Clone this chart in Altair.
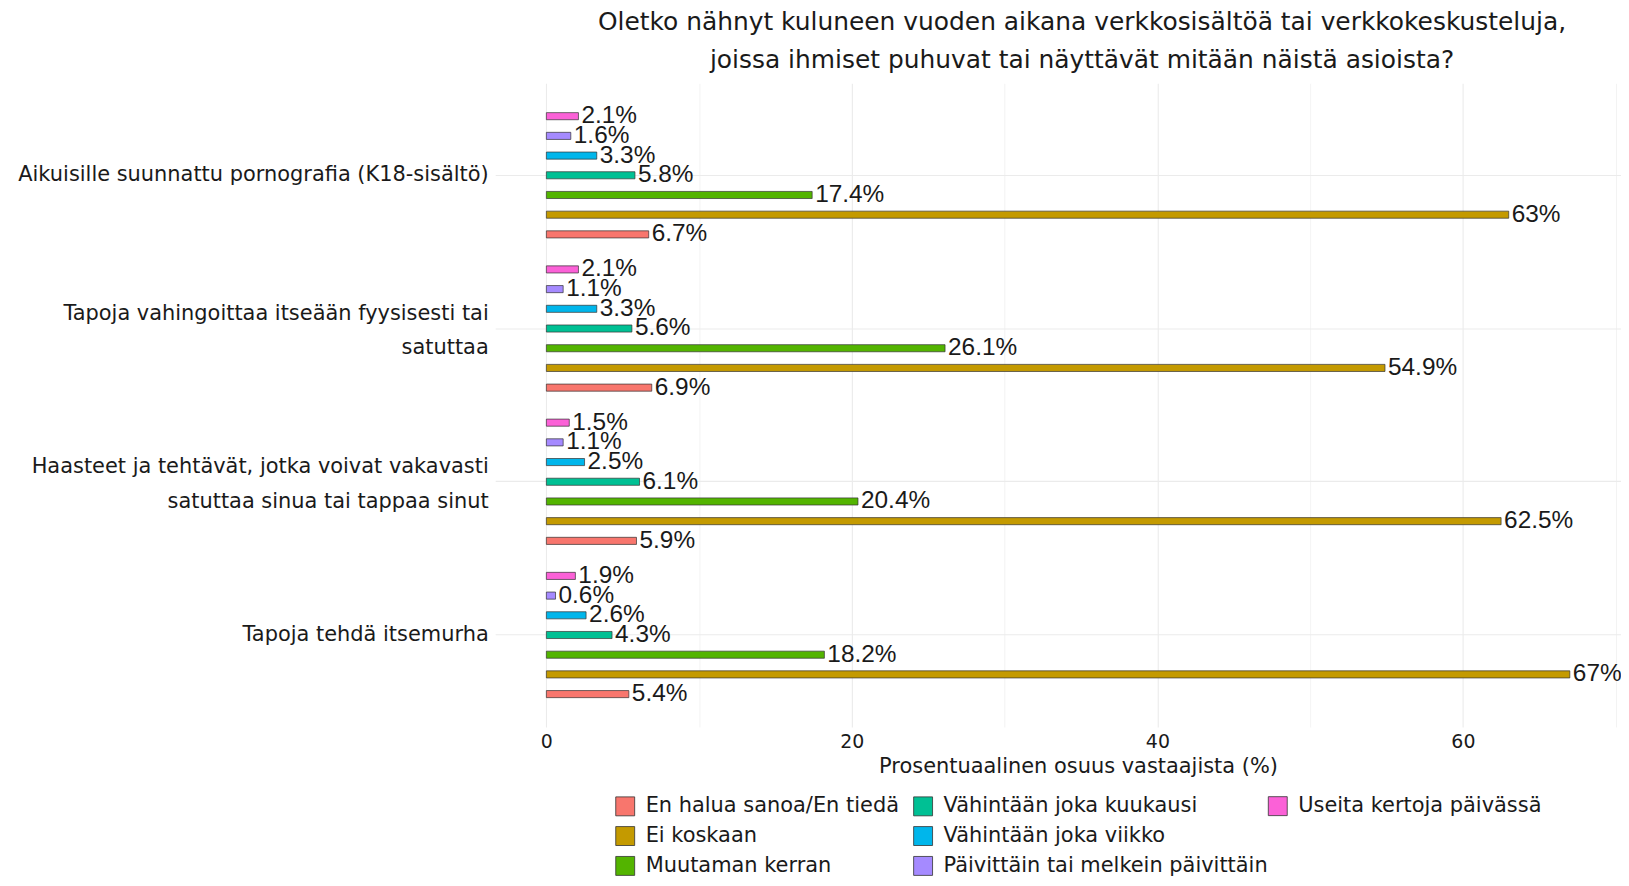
import altair as alt
import pandas as pd

categories = [
    "Aikuisille suunnattu pornografia (K18-sisältö)",
    "Tapoja vahingoittaa itseään fyysisesti tai satuttaa",
    "Haasteet ja tehtävät, jotka voivat vakavasti satuttaa sinua tai tappaa sinut",
    "Tapoja tehdä itsemurha",
]
category_lines = [
    ["Aikuisille suunnattu pornografia (K18-sisältö)"],
    ["Tapoja vahingoittaa itseään fyysisesti tai", "satuttaa"],
    ["Haasteet ja tehtävät, jotka voivat vakavasti", "satuttaa sinua tai tappaa sinut"],
    ["Tapoja tehdä itsemurha"],
]
# series order from top to bottom inside each group
series = [
    "Useita kertoja päivässä",
    "Päivittäin tai melkein päivittäin",
    "Vähintään joka viikko",
    "Vähintään joka kuukausi",
    "Muutaman kerran",
    "Ei koskaan",
    "En halua sanoa/En tiedä",
]
# legend: first two columns, then the third column
legend1_order = [
    "En halua sanoa/En tiedä",
    "Ei koskaan",
    "Muutaman kerran",
    "Vähintään joka kuukausi",
    "Vähintään joka viikko",
    "Päivittäin tai melkein päivittäin",
]
legend1_colors = ["#F8766D", "#C49A00", "#53B400", "#00C094", "#00B6EB", "#A58AFF"]
legend2_order = ["Useita kertoja päivässä"]
legend2_colors = ["#FB61D7"]

# values per category, in the series order above
values_porn = [2.1, 1.6, 3.3, 5.8, 17.4, 63, 6.7]
values_harm = [2.1, 1.1, 3.3, 5.6, 26.1, 54.9, 6.9]
values_challenge = [1.5, 1.1, 2.5, 6.1, 20.4, 62.5, 5.9]
values_suicide = [1.9, 0.6, 2.6, 4.3, 18.2, 67, 5.4]
x_ticks = [0, 10, 20, 30, 40, 50, 60, 70]

rows = []
for cat, vals in zip(categories, [values_porn, values_harm, values_challenge, values_suicide]):
    for s, v in zip(series, vals):
        rows.append({"category": cat, "series": s, "value": v, "label": f"{v:g}%"})
df = pd.DataFrame(rows)

label_map = "{" + ",".join(
    "'" + c + "':[" + ",".join("'" + l + "'" for l in lines) + "]"
    for c, lines in zip(categories, category_lines)
) + "}"

FONT = "DejaVu Sans"
TXT = "#1a1a1a"

y_enc = alt.Y(
    "category:N",
    sort=categories,
    scale=alt.Scale(domain=categories, paddingInner=0.1, paddingOuter=0.15),
    axis=alt.Axis(
        title=None, labelExpr=label_map + "[datum.label]", labelFontSize=21,
        labelFont=FONT, labelColor=TXT, labelLineHeight=35, labelPadding=7,
        labelOffset={"condition": {"test": "length(" + label_map + "[datum.value]) > 1", "value": -15},
                     "value": 0},
        ticks=False, domain=False, grid=True, gridColor="#EBEBEB", gridWidth=1.1,
        bandPosition=0.5, labelLimit=600,
    ),
)
yoff_enc = alt.YOffset(
    "series:N", sort=series,
    scale=alt.Scale(domain=series, paddingInner=0.64, paddingOuter=0.32),
)
x_enc = alt.X(
    "value:Q",
    scale=alt.Scale(domain=[-3.35, 70.35], nice=False, zero=False),
    axis=alt.Axis(
        values=x_ticks, title="Prosentuaalinen osuus vastaajista (%)",
        labelExpr="datum.value % 20 == 0 ? datum.label : ''",
        labelFontSize=19, labelFont=FONT, labelColor=TXT, labelPadding=6,
        titleFontSize=21, titleFont=FONT, titleFontWeight="normal", titleColor=TXT,
        titleX=585, titleY=40, titleBaseline="middle", titleAlign="center",
        ticks=False, domain=False, grid=True, gridColor="#EBEBEB",
        gridWidth={"condition": {"test": "datum.value % 20 == 0", "value": 1.1}, "value": 0.6},
    ),
)

legend_common = dict(
    title=None, orient="none", legendY=715, direction="vertical",
    symbolType="square", symbolSize=361, symbolStrokeColor="#333333",
    symbolStrokeWidth=0.8, labelFontSize=21, labelFont=FONT, labelColor=TXT,
    labelOffset=10, rowPadding=7, columnPadding=12, padding=0, labelLimit=500,
)

base = alt.Chart(df)

bars1 = base.transform_filter(
    alt.FieldOneOfPredicate(field="series", oneOf=legend1_order)
).mark_bar(stroke="#333333", strokeWidth=0.7).encode(
    x=x_enc, x2=alt.datum(0), y=y_enc, yOffset=yoff_enc,
    fill=alt.Fill(
        "series:N",
        scale=alt.Scale(domain=legend1_order, range=legend1_colors),
        legend=alt.Legend(legendX=120, columns=2, **legend_common),
    ),
)
bars2 = base.transform_filter(
    alt.FieldOneOfPredicate(field="series", oneOf=legend2_order)
).mark_bar(stroke="#333333", strokeWidth=0.7).encode(
    x=x_enc, x2=alt.datum(0), y=y_enc, yOffset=yoff_enc,
    fill=alt.Fill(
        "series:N",
        scale=alt.Scale(domain=legend2_order, range=legend2_colors),
        legend=alt.Legend(legendX=775, **legend_common),
    ),
)
texts = base.mark_text(
    align="left", baseline="middle", dx=3, fontSize=24.5, font="Liberation Sans", color=TXT
).encode(x=x_enc, y=y_enc, yOffset=yoff_enc, text="label:N")

chart = alt.layer(bars1, bars2, texts).resolve_scale(fill="independent").properties(
    width=1130,
    height=646,
    autosize=alt.AutoSizeParams(type="none"),
    padding={"left": 489, "top": 74, "right": 0, "bottom": 150},
    title=alt.TitleParams(
        text=["Oletko nähnyt kuluneen vuoden aikana verkkosisältöä tai verkkokeskusteluja,",
              "joissa ihmiset puhuvat tai näyttävät mitään näistä asioista?"],
        fontSize=25, font=FONT, fontWeight="normal", color=TXT,
        anchor="middle", dx=24, lineHeight=39, offset=10,
    ),
).configure_view(stroke=None)

chart.save("out.html", embed_options={"renderer": "svg", "actions": False})
